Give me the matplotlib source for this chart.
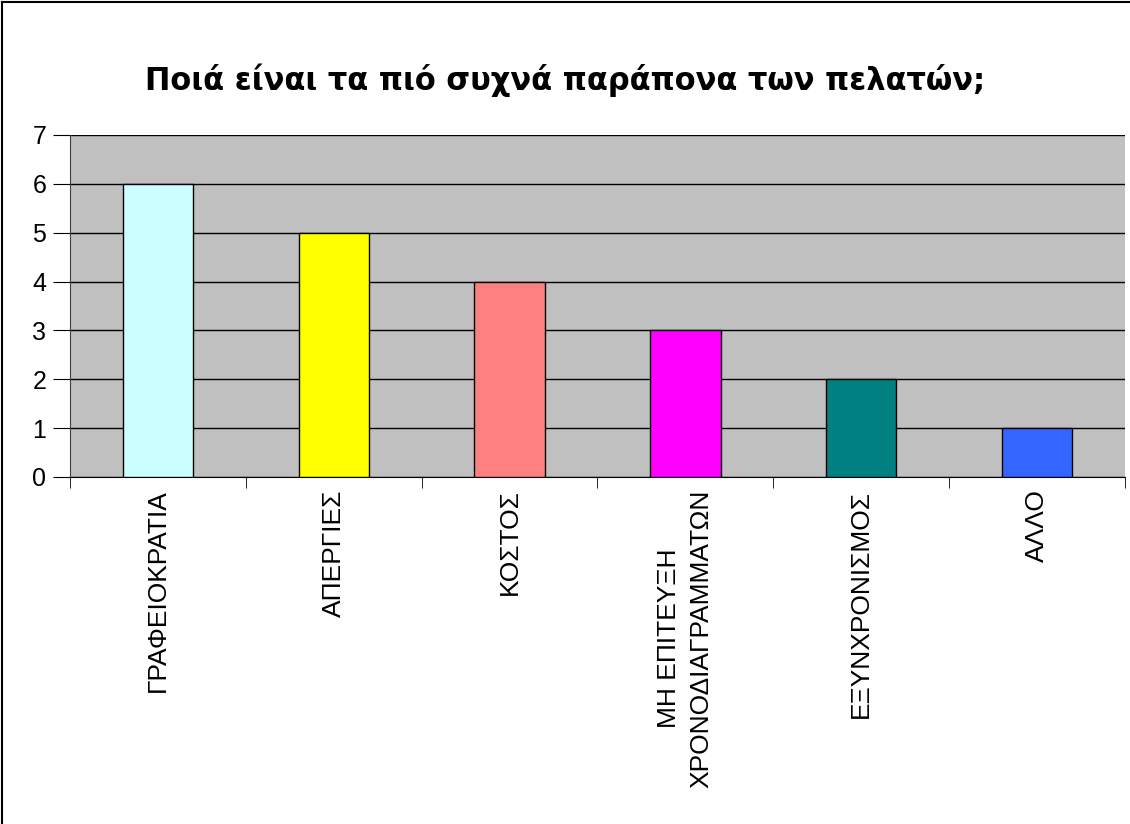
import matplotlib.pyplot as plt
from matplotlib.lines import Line2D

plt.rcParams['font.family'] = ['Liberation Sans', 'DejaVu Sans']

categories = ["ΓΡΑΦΕΙΟΚΡΑΤΙΑ", "ΑΠΕΡΓΙΕΣ", "ΚΟΣΤΟΣ",
              "ΜΗ ΕΠΙΤΕΥΞΗ\nΧΡΟΝΟΔΙΑΓΡΑΜΜΑΤΩΝ", "ΕΞΥΝΧΡΟΝΙΣΜΟΣ", "ΑΛΛΟ"]
values = [6, 5, 4, 3, 2, 1]
colors = ["#CCFFFF", "#FFFF00", "#FF8080", "#FF00FF", "#008080", "#3366FF"]
title = "Ποιά είναι τα πιό συχνά παράπονα των πελατών;"

fig = plt.figure(figsize=(11.3, 8.24), dpi=100)
ax = fig.add_axes([70 / 1130, 1 - 477 / 824, 1055 / 1130, 342 / 824])
ax.set_facecolor("#C0C0C0")

x = list(range(len(categories)))
ax.bar(x, values, width=0.4, color=colors, edgecolor="black", linewidth=1, zorder=3)

ax.set_xlim(-0.5, len(categories) - 0.5)
ax.set_ylim(0, 7)
ax.set_yticks(range(8))
ax.yaxis.grid(True, color="black", linewidth=1, zorder=1)
ax.set_axisbelow(True)

ax.set_xticks(x)
ax.set_xticklabels(categories, rotation=90, fontsize=19, multialignment="center",
                   linespacing=1.45)
ax.set_xticks([i + 0.5 for i in range(-1, len(categories))], minor=True)
ax.tick_params(axis="x", which="major", length=0, pad=9)
ax.tick_params(axis="x", which="minor", length=8, direction="out", color="black")
ax.tick_params(axis="y", labelsize=18, length=12, direction="out", pad=5)

for side in ["top", "right"]:
    ax.spines[side].set_visible(False)
ax.spines["left"].set_color("#404040")
ax.spines["bottom"].set_color("black")

fig.text(0.5, 1 - 80 / 824, title, ha="center", va="center", fontsize=22,
         fontweight="bold", family="DejaVu Sans")

# outer chart border
fig.add_artist(Line2D([0.002, 0.002], [0, 0.998], color="black", linewidth=1.5))
fig.add_artist(Line2D([0.002, 1], [0.998, 0.998], color="black", linewidth=1.5))

fig.savefig("out.png", dpi=100)
